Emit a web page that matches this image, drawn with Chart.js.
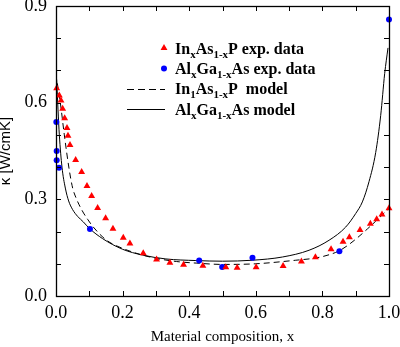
<!DOCTYPE html>
<html>
<head>
<meta charset="utf-8">
<script src="https://cdn.jsdelivr.net/npm/chart.js@4"></script>
<style>
  html, body { margin: 0; padding: 0; background: #fff; }
  canvas { display: block; }
</style>
</head>
<body>
<canvas id="kappaChart" width="400" height="347"></canvas>
<script>
// InxAs1-xP experimental points
const inaspX = [0.002, 0.010, 0.015, 0.020, 0.026, 0.033, 0.036, 0.042, 0.059, 0.077, 0.093, 0.107,
    0.125, 0.149, 0.171, 0.202, 0.222, 0.262, 0.302, 0.342, 0.383, 0.441, 0.510, 0.544, 0.601,
    0.682, 0.737, 0.779, 0.826, 0.862, 0.881, 0.913, 0.944, 0.963, 0.979, 1.000];
const inaspY = [0.645, 0.622, 0.607, 0.581, 0.552, 0.521, 0.497, 0.469, 0.422, 0.385, 0.341, 0.310,
    0.273, 0.241, 0.209, 0.181, 0.163, 0.133, 0.113, 0.103, 0.097, 0.094, 0.089, 0.088, 0.089,
    0.093, 0.107, 0.120, 0.145, 0.168, 0.182, 0.205, 0.224, 0.238, 0.253, 0.272];

// AlxGa1-xAs experimental points
const algaX = [0.001, 0.002, 0.002, 0.009, 0.102, 0.430, 0.499, 0.590, 0.851, 1.000];
const algaY = [0.540, 0.450, 0.421, 0.398, 0.208, 0.110, 0.090, 0.119, 0.139, 0.858];

// model curves
const inaspModelX = [0.004, 0.013, 0.025, 0.040, 0.050, 0.060, 0.078, 0.095, 0.112, 0.152, 0.202, 0.282,
    0.362, 0.423, 0.500, 0.600, 0.720, 0.780, 0.820, 0.850, 0.880, 0.910, 0.935, 0.960, 0.980, 1.000];
const inaspModelY = [0.660, 0.600, 0.500, 0.390, 0.335, 0.305, 0.266, 0.238, 0.214, 0.173, 0.147, 0.121,
    0.107, 0.102, 0.098, 0.100, 0.111, 0.118, 0.128, 0.140, 0.160, 0.185, 0.208, 0.232, 0.252, 0.272];

const algaModelX = [0.002, 0.006, 0.010, 0.018, 0.028, 0.038, 0.050, 0.065, 0.082, 0.100, 0.140, 0.200,
    0.260, 0.330, 0.420, 0.500, 0.590, 0.680, 0.760, 0.820, 0.870, 0.900, 0.920, 0.940, 0.960, 0.975,
    0.987, 0.997];
const algaModelY = [0.672, 0.580, 0.500, 0.400, 0.335, 0.295, 0.268, 0.247, 0.230, 0.210, 0.178, 0.145,
    0.127, 0.115, 0.110, 0.108, 0.111, 0.121, 0.142, 0.173, 0.214, 0.256, 0.292, 0.355, 0.445, 0.560,
    0.690, 0.770];

const xLabelTenths = [0, 2, 4, 6, 8, 10];
const yLabelTenths = [0, 3, 6, 9];

const legendRows = [
    { kind: 'tri', segs: [['In', 0], ['x', 1], ['As', 0], ['1-x', 1], ['P exp. data', 0]] },
    { kind: 'dot', segs: [['Al', 0], ['x', 1], ['Ga', 0], ['1-x', 1], ['As exp. data', 0]] },
    { kind: 'dash', segs: [['In', 0], ['1', 1], ['As', 0], ['1-x', 1], ['P  model', 0]] },
    { kind: 'solid', segs: [['Al', 0], ['x', 1], ['Ga', 0], ['1-x', 1], ['As model', 0]] }
];

const toPts = (xs, ys) => xs.map((x, i) => ({ x: x, y: ys[i] }));

const serif = '"Liberation Serif", "Times New Roman", serif';
const RED = '#ff0000';
const BLUE = '#0000ff';

function drawRich(ctx, x, y, segs) {
    segs.forEach(([txt, sub]) => {
        ctx.font = sub ? 'bold 11px ' + serif : 'bold 16px ' + serif;
        ctx.fillText(txt, x, sub ? y + 4 : y);
        x += ctx.measureText(txt).width;
    });
}

const frameAndTicks = {
    id: 'frameAndTicks',
    afterDatasetsDraw(chart) {
        const ctx = chart.ctx;
        const a = chart.chartArea;
        const len = 5;
        ctx.save();
        ctx.strokeStyle = '#000';
        ctx.lineWidth = 1;
        ctx.beginPath();
        chart.scales.x.ticks.forEach(t => {
            const px = Math.round(chart.scales.x.getPixelForValue(t.value)) + 0.5;
            ctx.moveTo(px, a.bottom); ctx.lineTo(px, a.bottom - len);
            ctx.moveTo(px, a.top); ctx.lineTo(px, a.top + len);
        });
        chart.scales.y.ticks.forEach(t => {
            const py = Math.round(chart.scales.y.getPixelForValue(t.value)) + 0.5;
            ctx.moveTo(a.left, py); ctx.lineTo(a.left + len, py);
            ctx.moveTo(a.right, py); ctx.lineTo(a.right - len, py);
        });
        ctx.stroke();
        ctx.lineWidth = 1.3;
        ctx.strokeRect(Math.round(a.left) + 0.5, Math.round(a.top) + 0.5,
            Math.round(a.right - a.left), Math.round(a.bottom - a.top));
        ctx.restore();
    },
    afterDraw(chart) {
        // legend with subscripts
        const ctx = chart.ctx;
        const a = chart.chartArea;
        const mx = a.left + 108;
        const tx = a.left + 119;
        ctx.save();
        ctx.fillStyle = '#000';
        ctx.textBaseline = 'alphabetic';
        legendRows.forEach((row, i) => {
            const base = a.top + 47.5 + i * 20.4;
            const cy = base - 5.5;
            if (row.kind === 'tri') {
                const r = 4;
                ctx.fillStyle = RED;
                ctx.beginPath();
                ctx.moveTo(mx, cy - r);
                ctx.lineTo(mx + r * 0.866, cy + r * 0.5);
                ctx.lineTo(mx - r * 0.866, cy + r * 0.5);
                ctx.closePath();
                ctx.fill();
            } else if (row.kind === 'dot') {
                ctx.fillStyle = BLUE;
                ctx.beginPath();
                ctx.arc(mx, cy, 3, 0, Math.PI * 2);
                ctx.fill();
            } else {
                ctx.strokeStyle = '#000';
                ctx.lineWidth = 1;
                ctx.setLineDash(row.kind === 'dash' ? [7, 4] : []);
                ctx.beginPath();
                ctx.moveTo(a.left + 71, Math.round(cy) + 0.5);
                ctx.lineTo(a.left + 109, Math.round(cy) + 0.5);
                ctx.stroke();
                ctx.setLineDash([]);
            }
            ctx.fillStyle = '#000';
            drawRich(ctx, tx, base, row.segs);
        });
        ctx.restore();
    }
};

new Chart(document.getElementById('kappaChart'), {
    type: 'scatter',
    data: {
        datasets: [
            {
                label: 'InxAs1-xP exp. data',
                data: toPts(inaspX, inaspY),
                pointStyle: 'triangle',
                pointRadius: 4,
                backgroundColor: RED,
                borderColor: RED,
                borderWidth: 0,
                showLine: false,
                clip: false
            },
            {
                label: 'AlxGa1-xAs exp. data',
                data: toPts(algaX, algaY),
                pointStyle: 'circle',
                pointRadius: 3,
                backgroundColor: BLUE,
                borderColor: BLUE,
                borderWidth: 0,
                showLine: false,
                clip: false
            },
            {
                label: 'In1As1-xP model',
                data: toPts(inaspModelX, inaspModelY),
                showLine: true,
                pointRadius: 0,
                borderColor: '#000',
                borderWidth: 1,
                borderDash: [6, 4],
                cubicInterpolationMode: 'monotone'
            },
            {
                label: 'AlxGa1-xAs model',
                data: toPts(algaModelX, algaModelY),
                showLine: true,
                pointRadius: 0,
                borderColor: '#000',
                borderWidth: 1,
                cubicInterpolationMode: 'monotone'
            }
        ]
    },
    options: {
        responsive: false,
        animation: false,
        devicePixelRatio: 1,
        layout: { padding: { top: 6, right: 11, left: 0, bottom: 0 } },
        plugins: {
            legend: { display: false },
            tooltip: { enabled: false }
        },
        scales: {
            x: {
                type: 'linear',
                min: 0,
                max: 1,
                grid: { display: false, drawTicks: false },
                border: { display: false },
                ticks: {
                    stepSize: 0.1,
                    autoSkip: false,
                    maxRotation: 0,
                    padding: 6,
                    color: '#000',
                    font: { family: serif, size: 18 },
                    callback: v => xLabelTenths.includes(Math.round(v * 10)) ? v.toFixed(1) : ''
                },
                title: {
                    display: true,
                    text: 'Material composition, x',
                    color: '#000',
                    font: { family: serif, size: 15 },
                    padding: { top: 0, bottom: 1 }
                },
                afterFit: s => { s.height = 51; s.paddingLeft = 0; s.paddingRight = 0; }
            },
            y: {
                type: 'linear',
                min: 0,
                max: 0.9,
                grid: { display: false, drawTicks: false },
                border: { display: false },
                ticks: {
                    stepSize: 0.1,
                    autoSkip: false,
                    padding: 9,
                    color: '#000',
                    font: { family: serif, size: 18 },
                    callback: v => yLabelTenths.includes(Math.round(v * 10)) ? v.toFixed(1) : ''
                },
                title: {
                    display: true,
                    text: 'κ [W/cmK]',
                    color: '#000',
                    font: { family: '"Liberation Sans", Arial, sans-serif', size: 15, lineHeight: 0.8 },
                    padding: 0
                },
                afterFit: s => { s.width = 56; s.paddingTop = 0; s.paddingBottom = 0; }
            }
        }
    },
    plugins: [frameAndTicks]
});
</script>
</body>
</html>
